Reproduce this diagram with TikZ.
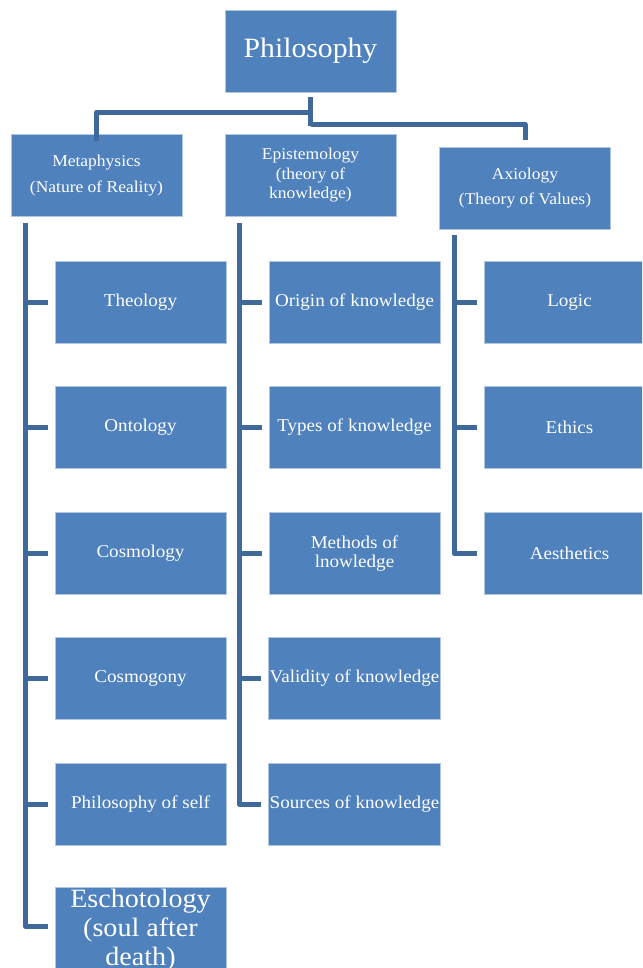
\documentclass[tikz,border=0pt]{standalone}
\usepackage{fontspec}
\setmainfont{Liberation Serif}[FakeStretch=1.06]
\definecolor{boxblue}{HTML}{4F81BD}
\definecolor{linkblue}{HTML}{3F689B}
\begin{document}
\begin{tikzpicture}[x=1pt,y=-1pt,
  box/.style={rectangle, fill=boxblue, draw=white!55!boxblue, line width=0.8pt,
    minimum width=171pt, minimum height=82pt, inner sep=1pt, text=white, align=center,
    font=\fontsize{18}{19.5}\selectfont},
  toptext/.style={font=\fontsize{16.5}{19.5}\selectfont},
  plain/.style={text=white, align=center, inner sep=0pt},
  conn/.style={draw=linkblue, line width=5pt, line join=round}]
\useasboundingbox (0,0) rectangle (642,968);
\clip (0,0) rectangle (642,968);
% top
\node[box, font=\fontsize{28}{30}\selectfont] (phil) at (310.5,51) {Philosophy};
\node[box, toptext] (meta) at (96.5,175.5) {Metaphysics\\[6pt](Nature of Reality)};
\node[box, toptext] (epis) at (310.5,175.5) {Epistemology\\(theory of\\knowledge)};
\node[box, toptext] (axio) at (525,188) {Axiology\\[6pt](Theory of Values)};
% left column
\node[box] (theo) at (140.5,302.5) {Theology};
\node[box] (onto) at (140.5,427.5) {Ontology};
\node[box] (cosl) at (140.5,553.5) {Cosmology};
\node[box] (cosg) at (140.5,678.5) {Cosmogony};
\node[box] (self) at (140.5,804.5) {Philosophy of self};
\node[box] (esch) at (140.5,928) {};
\node[plain, font=\fontsize{26.5}{29}\selectfont] (eschtext) at (140.5,930) {Eschotology\\(soul after\\death)};
% middle column
\node[box] (orig) at (354.5,302.5) {Origin of knowledge};
\node[box] (type) at (354.5,427.5) {Types of knowledge};
\node[box] (meth) at (354.5,553.5) {Methods of\\lnowledge};
\node[box] (vali) at (354.5,678.5) {Validity of knowledge};
\node[box] (sour) at (354.5,804.5) {Sources of knowledge};
% right column
\node[box] (logi) at (569.5,302.5) {Logic};
\node[box] (ethi) at (569.5,427.5) {Ethics};
\node[box] (aest) at (569.5,553.5) {Aesthetics};
% top connectors
\draw[conn] ([yshift=-7pt]meta.north) |- ([yshift=-20pt]phil.south);
\draw[conn] ([yshift=-5pt]phil.south) -- ([yshift=-34pt]phil.south);
\draw[conn] ([yshift=-32pt]phil.south) -| ([yshift=7pt]axio.north);
% trunks
\coordinate (mt) at ([xshift=15pt,yshift=-6pt]meta.south west);
\coordinate (et) at ([xshift=15pt,yshift=-6pt]epis.south west);
\coordinate (at) at ([xshift=15pt,yshift=-6pt]axio.south west);
\draw[conn] (mt) |- ([xshift=-7pt,yshift=1.5pt]esch.west);
\draw[conn] (et) |- ([xshift=-7pt]sour.west);
\draw[conn] (at) |- ([xshift=-7pt]aest.west);
\foreach \n in {theo,onto,cosl,cosg,self}
  \draw[conn] (\n.west -| mt) -- ([xshift=-7pt]\n.west);
\foreach \n in {orig,type,meth,vali}
  \draw[conn] (\n.west -| et) -- ([xshift=-7pt]\n.west);
\foreach \n in {logi,ethi}
  \draw[conn] (\n.west -| at) -- ([xshift=-7pt]\n.west);
\end{tikzpicture}
\end{document}
